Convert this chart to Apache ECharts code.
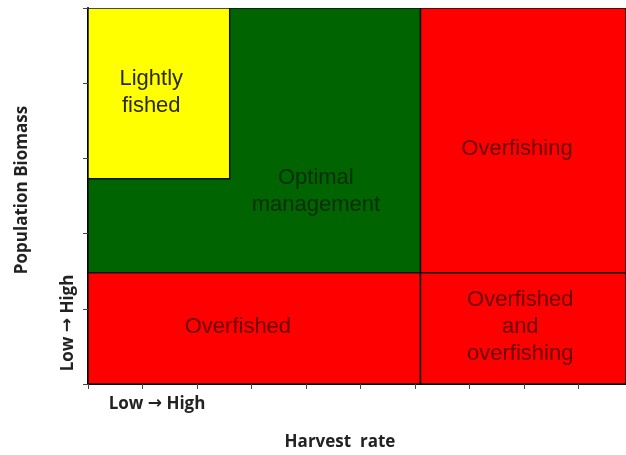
<!DOCTYPE html>
<html>
<head>
<meta charset="utf-8">
<script src="https://cdn.jsdelivr.net/npm/echarts@6/dist/echarts.min.js"></script>
<style>
  html, body { margin: 0; padding: 0; background: #fff; }
  #chart { width: 626px; height: 455px; }
</style>
</head>
<body>
<div id="chart"></div>
<script>
// zones of the harvest rate / biomass diagram (the picture is cut off on the right)
var xMax = 9.87;
var zoneNames = ['Optimal\nmanagement', 'Lightly\nfished', 'Overfishing', 'Overfished', 'Overfished\nand\noverfishing'];
var xFrom = [0, 0, 6.1, 0, 6.1];
var xTo = [6.1, 2.6, xMax, 6.1, xMax];
var yFrom = [1.48, 2.73, 1.48, 0, 0];
var yTo = [5, 5, 5, 1.48, 1.48];
// where each label sits (axis units)
var labelX = [4.18, 1.16, 7.87, 2.75, 7.93];
var labelY = [2.56, 3.88, 3.12, 0.76, 0.76];
var zoneColors = ['#006400', '#ffff00', '#ff0000', '#ff0000', '#ff0000'];
var textColors = ['#0b2e0b', '#2a2a10', '#6a0000', '#6a0000', '#6a0000'];

var chart = echarts.init(document.getElementById('chart'));

var data = zoneNames.map(function (n, i) {
    return [xFrom[i], xTo[i], yFrom[i], yTo[i], labelX[i], labelY[i], i];
});

var axisRich = {
    t: { font: 'bold 17px "Open Sans", sans-serif', fill: '#222' },
    a: { font: 'bold 17px "DejaVu Sans", sans-serif', fill: '#222' }
};
var lowHigh = '{t|Low }{a|\u2192}{t| High}';

option = {
    animation: false,
    grid: { left: 88, top: 8, bottom: 71, right: 0 },
    xAxis: {
        type: 'value', min: 0, max: xMax, interval: 1,
        axisLine: { lineStyle: { color: '#000', width: 2 } },
        axisTick: { show: true, length: 5, lineStyle: { color: '#444' } },
        axisLabel: { show: false },
        splitLine: { show: false }
    },
    yAxis: {
        type: 'value', min: 0, max: 5, interval: 1,
        axisLine: { show: true, lineStyle: { color: '#000', width: 2 } },
        axisTick: { show: true, length: 5, lineStyle: { color: '#444' } },
        axisLabel: { show: false },
        splitLine: { show: false }
    },
    series: [{
        type: 'custom',
        clip: true,
        data: data,
        renderItem: function (params, api) {
            var i = api.value(6);
            var p0 = api.coord([api.value(0), api.value(3)]);
            var p1 = api.coord([api.value(1), api.value(2)]);
            var c = api.coord([api.value(4), api.value(5)]);
            return {
                type: 'group',
                children: [{
                    type: 'rect',
                    shape: { x: p0[0], y: p0[1], width: p1[0] - p0[0], height: p1[1] - p0[1] },
                    style: { fill: zoneColors[i], stroke: '#111', lineWidth: 1.5 }
                }, {
                    type: 'text',
                    x: c[0], y: c[1],
                    style: {
                        text: zoneNames[i],
                        fill: textColors[i],
                        font: '22px "Liberation Sans", Arial, sans-serif',
                        lineHeight: 27,
                        align: 'center',
                        verticalAlign: 'middle'
                    }
                }]
            };
        }
    }],
    graphic: [{
        type: 'text', x: 22, y: 190, rotation: Math.PI / 2,
        style: { text: 'Population Biomass', font: 'bold 17px "Open Sans", sans-serif', fill: '#222', align: 'center', verticalAlign: 'middle' }
    }, {
        type: 'text', x: 68, y: 323, rotation: Math.PI / 2,
        style: { text: lowHigh, rich: axisRich, align: 'center', verticalAlign: 'middle' }
    }, {
        type: 'text', x: 157, y: 404,
        style: { text: lowHigh, rich: axisRich, align: 'center', verticalAlign: 'middle' }
    }, {
        type: 'text', x: 340, y: 442,
        style: { text: 'Harvest  rate', font: 'bold 17px "Open Sans", sans-serif', fill: '#222', align: 'center', verticalAlign: 'middle' }
    }]
};

chart.setOption(option, true);
</script>
</body>
</html>
